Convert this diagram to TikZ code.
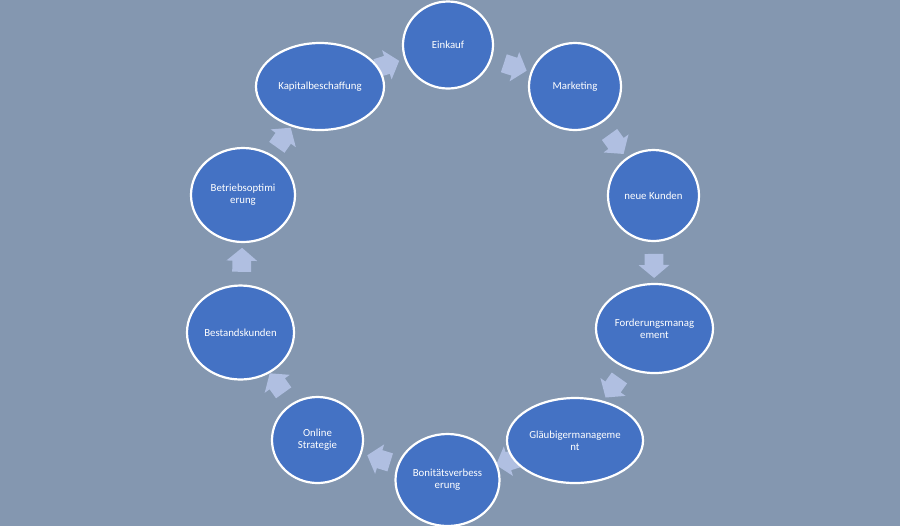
\documentclass[tikz,border=0pt]{standalone}
\usepackage{fontspec}
\setmainfont{Carlito}
\usetikzlibrary{shapes.geometric,shapes.arrows}
\pgfdeclarelayer{back}
\pgfdeclarelayer{under}
\pgfsetlayers{back,under,main}
\definecolor{backdrop}{RGB}{132,151,176}
\definecolor{phasefill}{RGB}{68,114,196}
\definecolor{turnfill}{RGB}{176,191,225}
\tikzset{
  phase/.style={ellipse, draw=white, line width=1.1pt, fill=phasefill, text=white,
    font=\fontsize{5.4}{6}\selectfont, align=center, inner sep=0pt},
  turn/.style={single arrow, fill=turnfill, draw=none, inner xsep=0pt, inner ysep=4.5pt,
    minimum height=12pt, single arrow head extend=3pt, single arrow tip angle=100,
    sloped, allow upside down}
}
\newcommand{\phase}[6]{\node[phase, minimum width=#3pt, minimum height=#4pt] (#1) at (#2) {#5#6};}
\begin{document}
\begin{tikzpicture}[x=0.5pt,y=-0.5pt]
\begin{pgfonlayer}{back}
\fill[backdrop] (0,0) rectangle (900,526);
\end{pgfonlayer}
\phase{kap}{320,86.5}{64}{43.5}{Kapitalbeschaffung}{}
\phase{ein}{448,45}{45}{43.5}{Einkauf}{}
\phase{mar}{575,86.5}{46}{43.5}{Marketing}{}
\phase{neu}{653.5,195.5}{45.5}{45.5}{neue Kunden}{}
\phase{ford}{654.5,328.5}{58.5}{44.5}{Forderungsmanag\\}{ement}
\phase{glaeu}{575,440.5}{68}{42.5}{Gläubigermanageme\\}{nt}
\phase{boni}{447.5,480}{52}{46}{Bonitätsverbess\\}{erung}
\phase{onl}{317.5,440}{45.5}{43}{Online\\}{Strategie}
\phase{best}{240.5,332.5}{53.5}{47}{Bestandskunden}{}
\phase{betr}{243,195}{52}{47}{Betriebsoptimi\\}{erung}
\begin{pgfonlayer}{under}
\foreach \a/\b in {kap/ein,ein/mar,mar/neu,neu/ford,ford/glaeu,glaeu/boni,boni/onl,onl/best,best/betr,betr/kap}
  \path (\a.center) -- node[turn] (t\a) {} (\b.center);
\end{pgfonlayer}
\end{tikzpicture}
\end{document}
